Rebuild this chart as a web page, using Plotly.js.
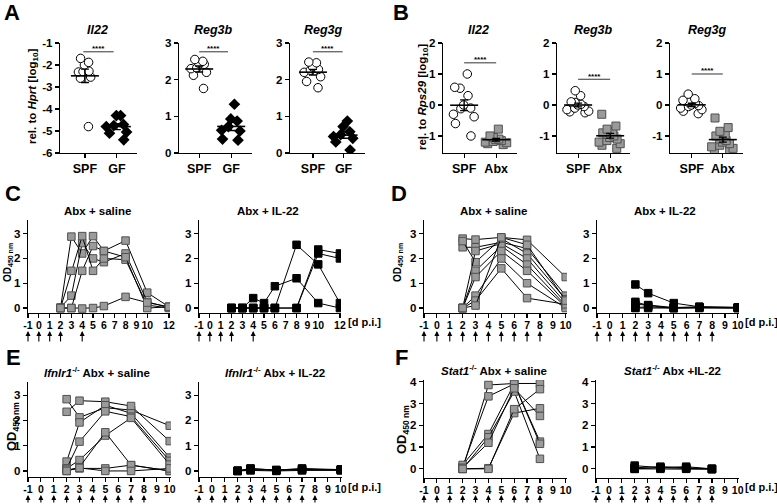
<!DOCTYPE html>
<html><head><meta charset="utf-8">
<script src="https://cdn.plot.ly/plotly-3.0.1.min.js"></script>
<style>html,body{margin:0;padding:0;background:#fff;}#chart{width:777px;height:504px;}</style>
</head><body><div id="chart"></div>
<script>
// ================= DATA =================
// Panel A: expression rel. to Hprt [log10], SPF vs GF
const groupsA = ['SPF', 'GF'];
const A_Il22_SPF  = [-1.70, -1.88, -2.00, -2.28, -2.30, -2.32, -2.55, -2.60, -4.80];
const A_Il22_GF   = [-4.30, -4.30, -4.70, -4.75, -4.80, -5.05, -5.10, -5.40];
const A_Reg3b_SPF = [2.55, 2.50, 2.45, 2.42, 2.32, 2.30, 2.20, 2.12, 1.76];
const A_Reg3b_GF  = [1.33, 0.93, 0.87, 0.72, 0.62, 0.60, 0.38, 0.35];
const A_Reg3g_SPF = [2.48, 2.46, 2.35, 2.28, 2.26, 2.20, 2.08, 1.95, 1.78];
const A_Reg3g_GF  = [0.87, 0.72, 0.58, 0.50, 0.45, 0.40, 0.30, 0.08];
// Panel B: expression rel. to Rps29 [log10], SPF vs Abx
const groupsB = ['SPF', 'Abx'];
const B_Il22_SPF  = [1.00, 0.57, 0.54, 0.30, 0.00, -0.10, -0.12, -0.30, -0.38, -0.60, -1.00];
const B_Il22_Abx  = [-0.78, -1.00, -1.05, -1.10, -1.12, -1.15, -1.18, -1.20, -1.22, -1.25, -1.28];
const B_Reg3b_SPF = [0.46, 0.30, 0.10, 0.08, 0.02, 0.00, -0.05, -0.10, -0.15, -0.20, -0.22, -0.25];
const B_Reg3b_Abx = [-0.30, -0.68, -0.78, -0.85, -0.90, -0.95, -1.00, -1.05, -1.10, -1.15, -1.20, -1.25, -1.30, -1.40];
const B_Reg3g_SPF = [0.35, 0.20, 0.15, 0.10, 0.05, 0.00, -0.02, -0.05, -0.10, -0.15, -0.20, -0.28];
const B_Reg3g_Abx = [-0.42, -0.73, -0.85, -0.95, -1.00, -1.10, -1.15, -1.20, -1.25, -1.30, -1.35, -1.40, -1.45, -1.50];

// Panel C: OD450 time courses, days p.i.
const daysC = [2, 3, 4, 5, 6, 8, 10, 12];
const C_saline = [
  [0.00, 2.88, 2.20, 2.90, 2.30, 2.72, 0.62, 0.05],
  [0.02, 0.50, 2.62, 2.00, 1.85, 2.20, 0.25, 0.02],
  [0.00, 1.50, 2.90, 1.50, 2.00, 1.95, 0.12, 0.00],
  [0.00, 0.00, 1.50, 2.50, 2.30, 2.05, 0.00, 0.05],
  [0.00, 0.00, -0.02, 0.00, 0.08, 0.45, 0.22, 0.05]
];
const C_il22 = [
  [0.00, 0.00, 0.40, 0.20, 0.88, 1.20, 0.20, 0.00],
  [0.00, 0.00, 0.00, 0.00, 0.00, 2.55, 1.76, 0.20],
  [0.00, 0.00, 0.00, 0.00, 0.00, 0.00, 2.36, 2.20],
  [0.00, 0.00, 0.00, 0.00, 0.00, 0.00, 2.20, 2.00]
];
const injC = [-1, 0, 1, 2, 4];

// Panel D
const daysD = [2, 3, 5, 7, 10];
const D_saline = [
  [2.80, 2.76, 2.85, 2.75, 1.25],
  [2.45, 2.45, 2.65, 2.40, 0.50],
  [2.70, 1.85, 2.80, 2.20, 0.35],
  [0.00, 2.30, 2.60, 2.00, 0.20],
  [0.00, 1.50, 2.50, 1.75, 0.10],
  [0.00, 1.25, 2.30, 1.50, 0.05],
  [0.00, 0.50, 2.00, 1.00, 0.00],
  [0.00, 0.30, 1.60, 0.40, 0.15],
  [0.00, 0.10, 2.85, 2.55, 0.30]
];
const D_il22 = [
  [0.95, 0.60, 0.20, 0.05, 0.02],
  [0.25, 0.10, 0.00, 0.02, 0.00],
  [0.15, 0.12, 0.02, 0.05, 0.03],
  [0.00, 0.00, 0.00, 0.00, 0.00],
  [0.02, 0.05, 0.00, 0.03, 0.01]
];
const injD = [-1, 0, 1, 2, 3, 4, 5, 6, 7, 8];

// Panel E (Ifnlr1-/-)
const daysE = [2, 3, 5, 7, 10];
const E_saline = [
  [2.84, 2.12, 2.50, 2.41, 1.79],
  [2.34, 2.78, 2.74, 2.57, 1.18],
  [0.37, 1.92, 2.60, 2.28, 0.53],
  [0.10, 1.16, 2.36, 2.15, 0.40],
  [0.10, 0.43, 1.40, 2.10, 0.25],
  [0.00, 0.15, 1.53, 0.23, 0.00],
  [0.05, 0.10, 0.10, 0.23, 0.00],
  [0.00, 0.12, 0.00, 0.00, 0.10]
];
const E_il22 = [
  [0.00, 0.10, 0.03, 0.10, 0.05],
  [0.00, 0.05, 0.02, 0.05, 0.06],
  [0.00, 0.02, 0.00, 0.02, 0.02],
  [0.01, 0.08, 0.04, 0.07, 0.04]
];
const injE = [-1, 0, 1, 2, 3, 4, 5, 6, 7, 8];

// Panel F (Stat1-/-)
const daysF = [2, 4, 6, 8];
const F_saline = [
  [0.00, 3.85, 3.92, 3.92],
  [0.10, 3.33, 3.90, 1.25],
  [0.18, 1.60, 3.90, 1.15],
  [0.00, 1.45, 3.55, 0.46],
  [0.05, 1.20, 3.70, 2.43],
  [0.00, 0.03, 2.56, 2.78],
  [0.00, 0.00, 2.74, 3.66]
];
const F_il22 = [
  [0.15, 0.05, 0.10, 0.00],
  [0.00, 0.00, 0.00, -0.02],
  [0.05, 0.10, 0.05, 0.00],
  [0.00, 0.05, 0.02, 0.00]
];
const injF = [-1, 0, 1, 2, 3, 4, 5, 6, 7, 8];

const dayTicks12 = [-1, 0, 1, 2, 3, 4, 5, 6, 7, 8, 9, 10, 12];
const dayTicks10 = [-1, 0, 1, 2, 3, 4, 5, 6, 7, 8, 9, 10];

// ================= LAYOUT =================
const FONT = 'Liberation Sans, Arial, Helvetica, sans-serif';
const W = 777, H = 504;
const fx = p => p / W, fy = p => 1 - p / H;
const GREY = '#9a9a9a', GREYLINE = '#505050';

const layout = {
  width: W, height: H, margin: {l: 0, r: 0, t: 0, b: 0},
  paper_bgcolor: 'white', plot_bgcolor: 'white', showlegend: false,
  font: {family: FONT, color: 'black'},
  annotations: [], shapes: []
};
const traces = [];
const sfx = i => (i === 1 ? '' : String(i));

function addAxes(i, xpx, ypx, xr, yr, xvals, xtext, yvals, xfs, xstand) {
  const base = {showgrid: false, zeroline: false, showline: true, linecolor: 'black', linewidth: 1.2,
    ticks: 'outside', ticklen: 4, tickwidth: 1.2, tickcolor: 'black', fixedrange: true, automargin: false,
    tickangle: 0, tickfont: {family: FONT, size: 11.5, color: 'black', weight: 'bold'}};
  layout['xaxis' + sfx(i)] = Object.assign({}, base, {
    domain: [fx(xpx[0]), fx(xpx[1])], range: xr, anchor: 'y' + sfx(i),
    tickmode: 'array', tickvals: xvals, ticktext: xtext, ticklabelstandoff: xstand || 0,
    tickfont: {family: FONT, size: xfs || 10.5, color: 'black', weight: 'bold'}});
  layout['yaxis' + sfx(i)] = Object.assign({}, base, {
    domain: [fy(ypx[1]), fy(ypx[0])], range: yr, anchor: 'x' + sfx(i),
    tickmode: 'array', tickvals: yvals, ticktext: yvals.map(String)});
}
function txt(x, y, text, size, extra) {
  layout.annotations.push(Object.assign({x: fx(x), y: fy(y), xref: 'paper', yref: 'paper',
    text: text, showarrow: false, xanchor: 'center', yanchor: 'middle',
    font: {family: FONT, size: size, color: 'black'}}, extra || {}));
}
function mean(a) { return a.reduce((s, v) => s + v, 0) / a.length; }
function sem(a) { const m = mean(a); return Math.sqrt(a.reduce((s, v) => s + (v - m) * (v - m), 0) / (a.length - 1) / a.length); }

function dots(i, pos, vals, marker) {
  traces.push({type: 'box', x: vals.map(() => pos), y: vals, xaxis: 'x' + sfx(i), yaxis: 'y' + sfx(i),
    boxpoints: 'all', jitter: 1, pointpos: 0, width: 0.85, whiskerwidth: 0,
    fillcolor: 'rgba(0,0,0,0)', line: {width: 0, color: 'rgba(0,0,0,0)'},
    marker: marker, hoverinfo: 'y'});
}
function meanSem(i, groups) {
  traces.push({type: 'scatter', mode: 'markers', x: groups.map((g, k) => k), y: groups.map(mean),
    xaxis: 'x' + sfx(i), yaxis: 'y' + sfx(i),
    marker: {symbol: 'line-ew', size: 20, color: 'black', line: {width: 1.6, color: 'black'}},
    error_y: {type: 'data', array: groups.map(sem), color: 'black', thickness: 1.4, width: 4}});
}
function sig(i, x0, x1, y) {
  layout.shapes.push({type: 'line', xref: 'x' + sfx(i), yref: 'y' + sfx(i), x0: x0, x1: x1, y0: y, y1: y,
    line: {color: '#333', width: 1}});
  layout.annotations.push({x: (x0 + x1) / 2, y: y, xref: 'x' + sfx(i), yref: 'y' + sfx(i), text: '<b>****</b>',
    showarrow: false, yanchor: 'middle', yshift: 3, font: {family: FONT, size: 8, color: 'black'}});
}
function courses(i, days, mice, fill, outline) {
  mice.forEach(m => traces.push({type: 'scatter', mode: 'lines+markers', x: days, y: m,
    xaxis: 'x' + sfx(i), yaxis: 'y' + sfx(i), line: {color: 'black', width: 1},
    marker: {symbol: 'square', size: 7.5, color: fill, line: {color: outline, width: 1}}}));
}
function arrows(i, days, headPx, len) {
  days.forEach(d => layout.annotations.push({x: d, xref: 'x' + sfx(i), y: fy(headPx), yref: 'paper',
    text: '', showarrow: true, ax: 0, ay: len, arrowhead: 2, arrowsize: 0.9, arrowwidth: 1.1, arrowcolor: 'black'}));
}

const openCircle = {symbol: 'circle', size: 8.5, color: 'white', line: {color: 'black', width: 1}};
const blackDiamond = {symbol: 'diamond', size: 9, color: 'black', line: {color: 'black', width: 0}};
const greySquare = {symbol: 'square', size: 8, color: GREY, line: {color: GREYLINE, width: 1}};

// ---- Panel A ----
addAxes(1, [60, 137], [43, 153], [-0.78, 1.63], [-6, -1], [0, 1], groupsA, [-6, -5, -4, -3, -2, -1], 12.5);
addAxes(2, [179, 252], [43, 153], [-0.63, 1.65], [0, 3], [0, 1], groupsA, [0, 1, 2, 3], 12.5);
addAxes(3, [290, 365], [43, 153], [-0.75, 1.70], [0, 3], [0, 1], groupsA, [0, 1, 2, 3], 12.5);
dots(1, 0, A_Il22_SPF, openCircle); dots(1, 1, A_Il22_GF, blackDiamond); meanSem(1, [A_Il22_SPF, A_Il22_GF]);
dots(2, 0, A_Reg3b_SPF, openCircle); dots(2, 1, A_Reg3b_GF, blackDiamond); meanSem(2, [A_Reg3b_SPF, A_Reg3b_GF]);
dots(3, 0, A_Reg3g_SPF, openCircle); dots(3, 1, A_Reg3g_GF, blackDiamond); meanSem(3, [A_Reg3g_SPF, A_Reg3g_GF]);
sig(1, -0.05, 0.9, -1.4); sig(2, 0, 0.9, 2.76); sig(3, 0, 0.97, 2.76);

// ---- Panel B ----
addAxes(4, [443, 517], [43, 153], [-0.66, 1.65], [-1.55, 2], [0, 1], groupsB, [-1, 0, 1, 2], 12.5);
addAxes(5, [557, 630], [43, 153], [-0.66, 1.62], [-1.55, 2], [0, 1], groupsB, [-1, 0, 1, 2], 12.5);
addAxes(6, [670, 743], [43, 153], [-0.70, 1.65], [-1.55, 2], [0, 1], groupsB, [-1, 0, 1, 2], 12.5);
dots(4, 0, B_Il22_SPF, openCircle); dots(4, 1, B_Il22_Abx, greySquare); meanSem(4, [B_Il22_SPF, B_Il22_Abx]);
dots(5, 0, B_Reg3b_SPF, openCircle); dots(5, 1, B_Reg3b_Abx, greySquare); meanSem(5, [B_Reg3b_SPF, B_Reg3b_Abx]);
dots(6, 0, B_Reg3g_SPF, openCircle); dots(6, 1, B_Reg3g_Abx, greySquare); meanSem(6, [B_Reg3g_SPF, B_Reg3g_Abx]);
sig(4, 0, 1, 1.36); sig(5, 0, 1, 0.83); sig(6, 0, 1, 1.0);

// ---- Panels C-F ----
const t12 = dayTicks12.map(String), t10 = dayTicks10.map(String);
addAxes(7,  [28, 170],  [220, 313], [-1, 12.1], [-0.2, 3.55], dayTicks12, t12, [0, 1, 2, 3], 10.5, -2);
addAxes(8,  [199, 341], [220, 313], [-1, 12.1], [-0.2, 3.55], dayTicks12, t12, [0, 1, 2, 3], 10.5, -2);
addAxes(9,  [424, 567], [220, 313], [-1, 10.1], [-0.2, 3.55], dayTicks10, t10, [0, 1, 2, 3], 10.5, -2);
addAxes(10, [597, 739], [220, 313], [-1, 10.1], [-0.2, 3.55], dayTicks10, t10, [0, 1, 2, 3], 10.5, -2);
addAxes(11, [28, 171],  [382, 477], [-1, 10.1], [-0.24, 3.52], dayTicks10, t10, [0, 1, 2, 3], 10.5, -2);
addAxes(12, [199, 342], [382, 477], [-1, 10.1], [-0.24, 3.52], dayTicks10, t10, [0, 1, 2, 3], 10.5, -2);
addAxes(13, [424, 567], [380, 478], [-1, 10.1], [-0.42, 4.08], dayTicks10, t10, [0, 1, 2, 3, 4], 10.5, -2);
addAxes(14, [596, 739], [380, 478], [-1, 10.1], [-0.42, 4.08], dayTicks10, t10, [0, 1, 2, 3, 4], 10.5, -2);
courses(7, daysC, C_saline, GREY, GREYLINE);  courses(8, daysC, C_il22, 'black', 'black');
courses(9, daysD, D_saline, GREY, GREYLINE);  courses(10, daysD, D_il22, 'black', 'black');
courses(11, daysE, E_saline, GREY, GREYLINE); courses(12, daysE, E_il22, 'black', 'black');
courses(13, daysF, F_saline, GREY, GREYLINE); courses(14, daysF, F_il22, 'black', 'black');
arrows(7, injC, 331, 12); arrows(8, injC, 331, 12);
arrows(9, injD, 331, 12); arrows(10, injD, 331, 12);
arrows(11, injE, 495, 11); arrows(12, injE, 495, 11);
arrows(13, injF, 495, 11); arrows(14, injF, 495, 11);

// ---- Texts ----
['A', 'B', 'C', 'D', 'E', 'F'].forEach((L, k) => {
  const pos = [[12, 12], [401, 12], [13, 193], [399, 193], [13, 357], [401, 357]][k];
  txt(pos[0], pos[1], '<b>' + L + '</b>', 22);
});
txt(98, 30, '<b><i>Il22</i></b>', 12.5); txt(213, 30, '<b><i>Reg3b</i></b>', 12.5); txt(323, 30, '<b><i>Reg3g</i></b>', 12.5);
txt(478, 30, '<b><i>Il22</i></b>', 12.5); txt(593, 30, '<b><i>Reg3b</i></b>', 12.5); txt(707, 30, '<b><i>Reg3g</i></b>', 12.5);
txt(33, 97, '<b>rel. to <i>Hprt</i> [log<sub>10</sub>]</b>', 11.5, {textangle: -90});
txt(423, 97, '<b>rel. to <i>Rps29</i> [log<sub>10</sub>]</b>', 11.5, {textangle: -90});
txt(98, 211, '<b>Abx + saline</b>', 11.5); txt(268, 211, '<b>Abx + IL-22</b>', 11.5);
txt(493, 211, '<b>Abx + saline</b>', 11.5); txt(665, 211, '<b>Abx + IL-22</b>', 11.5);
txt(97, 372, '<b><i>Ifnlr1</i><sup>-/-</sup> Abx + saline</b>', 11.5); txt(275, 372, '<b><i>Ifnlr1</i><sup>-/-</sup> Abx + IL-22</b>', 11.5);
txt(494, 370, '<b><i>Stat1</i><sup>-/-</sup> Abx + saline</b>', 11.5); txt(672, 370, '<b><i>Stat1</i><sup>-/-</sup> Abx +IL-22</b>', 11.5);
const odSmall = '<b>OD<sub><span style="font-size:7px">450 nm</span></sub></b>';
const odLarge = '<b>OD<sub><span style="font-size:8.5px">450 nm</span></sub></b>';
txt(8, 263, odSmall, 10, {textangle: -90});
txt(398, 263, odSmall, 10, {textangle: -90});
txt(12, 427, odLarge, 13, {textangle: -90});
txt(402, 430, odLarge, 13, {textangle: -90});
txt(364, 322, '<b>[d p.i.]</b>', 11); txt(761, 322, '<b>[d p.i.]</b>', 11);
txt(364, 487, '<b>[d p.i.]</b>', 11); txt(761, 487, '<b>[d p.i.]</b>', 11);

Plotly.newPlot('chart', traces, layout, {staticPlot: true, displayModeBar: false});
</script>
</body></html>
